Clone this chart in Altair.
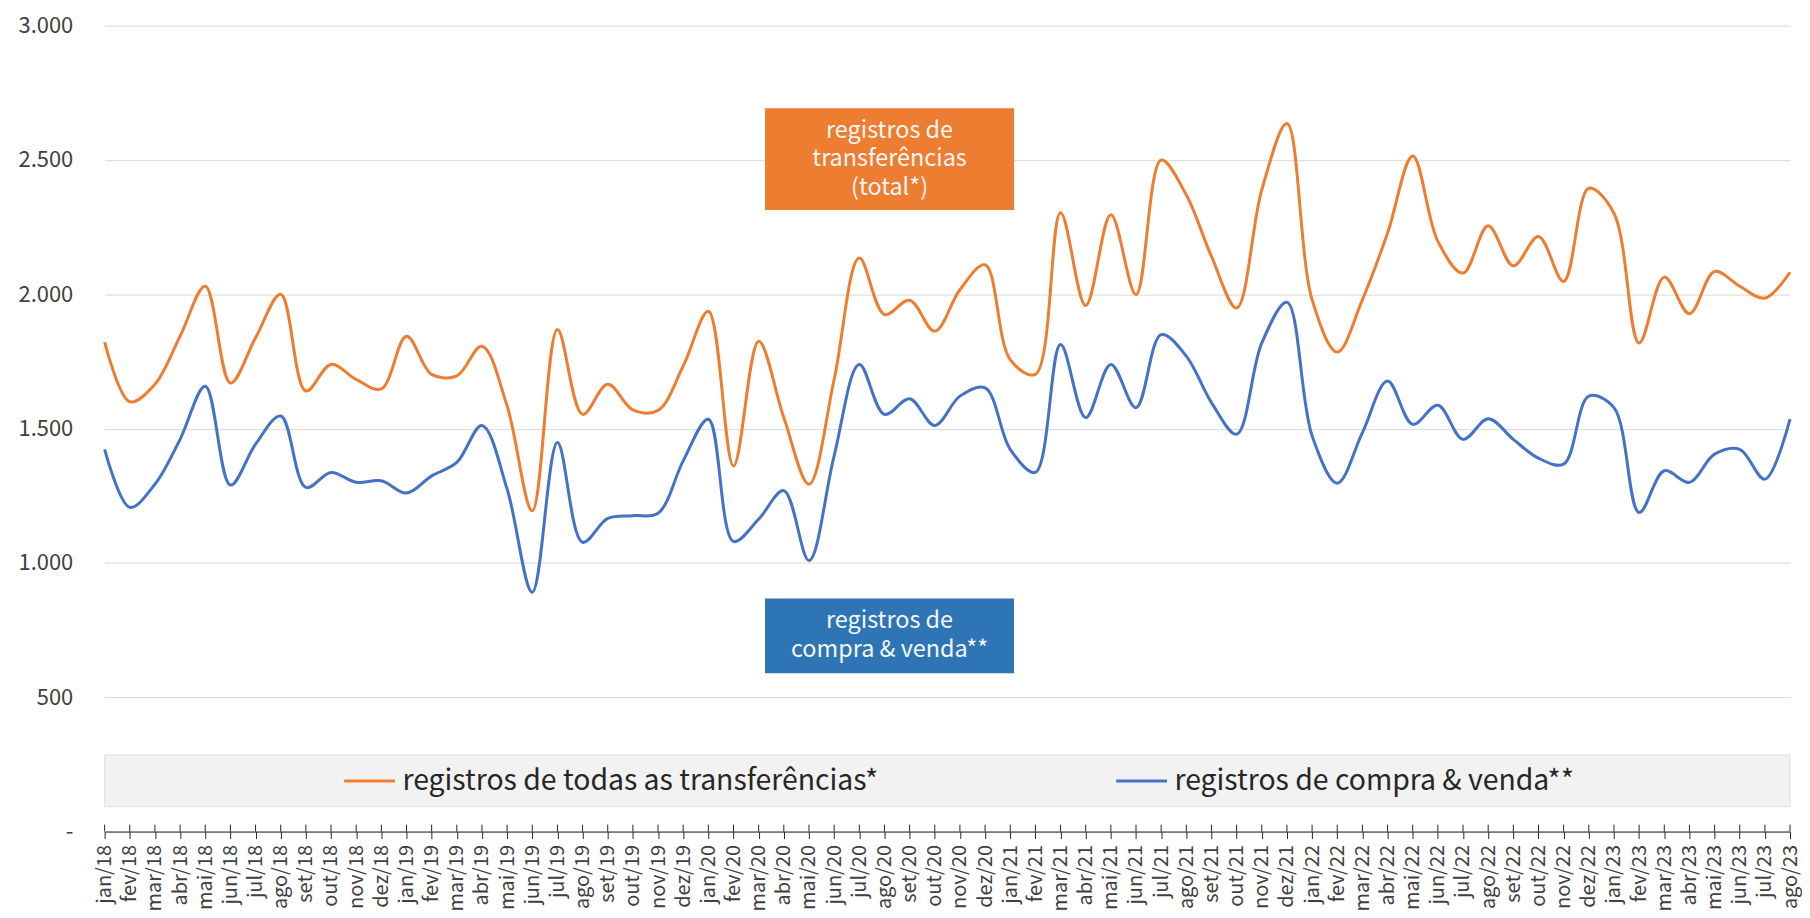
import altair as alt
import pandas as pd

F = "Noto Sans CJK JP"

meses = ["jan", "fev", "mar", "abr", "mai", "jun", "jul", "ago", "set", "out", "nov", "dez"]
anos = ["18", "19", "20", "21", "22", "23"]
rotulos = [f"{m}/{a}" for a in anos for m in meses][:68]

total = [
    1822, 1600, 1665, 1844, 2030, 1670, 1838, 2000, 1640, 1739, 1683, 1648,
    1844, 1702, 1696, 1807, 1584, 1194, 1869, 1553, 1665, 1570, 1568, 1733,
    1937, 1361, 1825, 1541, 1293, 1683, 2135, 1925, 1978, 1863, 2017, 2110,
    1757, 1702, 2304, 1958, 2296, 1999, 2500, 2370, 2141, 1949, 2389, 2636,
    1980, 1785, 1980, 2228, 2515, 2197, 2079, 2255, 2106, 2215, 2048, 2395,
    2302, 1819, 2064, 1928, 2085, 2030, 1986, 2082,
]
compra = [
    1423, 1207, 1293, 1460, 1658, 1290, 1442, 1547, 1281, 1337, 1300, 1306,
    1260, 1324, 1374, 1512, 1275, 891, 1448, 1077, 1166, 1176, 1185, 1380,
    1535, 1080, 1163, 1269, 1009, 1399, 1739, 1553, 1611, 1512, 1621, 1652,
    1423, 1337, 1813, 1541, 1739, 1578, 1850, 1770, 1597, 1479, 1819, 1970,
    1473, 1297, 1485, 1677, 1516, 1587, 1460, 1537, 1460, 1390, 1368, 1621,
    1578, 1188, 1343, 1300, 1405, 1423, 1312, 1535,
]

serie_total = "registros de todas as transferências*"
serie_compra = "registros de compra & venda**"
series = [serie_total, serie_compra]
cores = ["#ED7D31", "#4472C4"]

y_ticks = [0, 500, 1000, 1500, 2000, 2500, 3000]

texto_total = ["registros de", "transferências", "(total*)"]
texto_compra = ["registros de", "compra & venda**"]

df = pd.DataFrame({
    "mes": rotulos * 2,
    "valor": total + compra,
    "serie": [serie_total] * len(total) + [serie_compra] * len(compra),
})
df_meses = pd.DataFrame({"mes": rotulos})
one = pd.DataFrame({"a": [0]})

W, H = 1692, 809

x_enc = alt.X(
    "mes:N", sort=rotulos, scale=alt.Scale(type="point", padding=0),
    axis=alt.Axis(title=None, labelAngle=270, labelFont=F, labelFontSize=20,
                  labelColor="#404040", domainColor="#262626", domainWidth=1,
                  tickColor="#262626", tickSize=7, labelPadding=6,
                  labelOverlap=False, grid=False),
)

legend_bg = alt.Chart(one).mark_rect(fill="#f2f2f2", stroke="#e0e0e0", strokeWidth=1).encode(
    x=alt.value(0), x2=alt.value(W), y=alt.value(732), y2=alt.value(784)
)

lines = alt.Chart(df).mark_line(strokeWidth=3, interpolate="catmull-rom").encode(
    x=x_enc,
    y=alt.Y("valor:Q", scale=alt.Scale(domain=[0, 3000]),
            axis=alt.Axis(title=None, values=y_ticks,
                          labelExpr="datum.value == 0 ? '-' : replace(format(datum.value, ',d'), ',', '.')",
                          domain=False, ticks=False, gridColor="#d9d9d9", gridWidth=1,
                          labelFont=F, labelFontSize=22, labelColor="#404040",
                          labelPadding=32)),
    color=alt.Color("serie:N", sort=series,
                    scale=alt.Scale(domain=series, range=cores),
                    legend=alt.Legend(title=None, orient="none", legendX=239, legendY=731,
                                      direction="horizontal", symbolType="stroke",
                                      symbolSize=2601, symbolStrokeWidth=3,
                                      labelFont=F, labelFontSize=28.5, labelColor="#262626",
                                      labelLimit=1000, columnPadding=232, labelOffset=6)),
)

box_total = alt.Chart(one).mark_rect(fill="#ED7D31").encode(
    x=alt.value(663), x2=alt.value(913), y=alt.value(83), y2=alt.value(185)
)
box_compra = alt.Chart(one).mark_rect(fill="#2E75B6").encode(
    x=alt.value(663), x2=alt.value(913), y=alt.value(575), y2=alt.value(650)
)
txt_total = alt.Chart(one).mark_text(
    text=texto_total, font=F, fontSize=23.5, color="#f5f5f5", lineHeight=28.5,
    align="center", baseline="middle"
).encode(x=alt.value(788), y=alt.value(105.5))
txt_compra = alt.Chart(one).mark_text(
    text=texto_compra, font=F, fontSize=23.5, color="#f5f5f5", lineHeight=28.5,
    align="center", baseline="middle"
).encode(x=alt.value(788), y=alt.value(598))

cross_ticks = alt.Chart(df_meses).mark_rule(color="#262626", strokeWidth=1).encode(
    x=alt.X("mes:N", sort=rotulos), y=alt.value(H - 7), y2=alt.value(H)
)

chart = alt.layer(
    legend_bg, lines, box_total, box_compra, txt_total, txt_compra, cross_ticks
).properties(
    width=W, height=H,
    autosize=alt.AutoSizeParams(type="none"),
    padding={"left": 97, "top": 16, "right": 12, "bottom": 80},
).configure_view(stroke=None)

chart.save("out.html", embed_options={"renderer": "svg", "actions": False})
